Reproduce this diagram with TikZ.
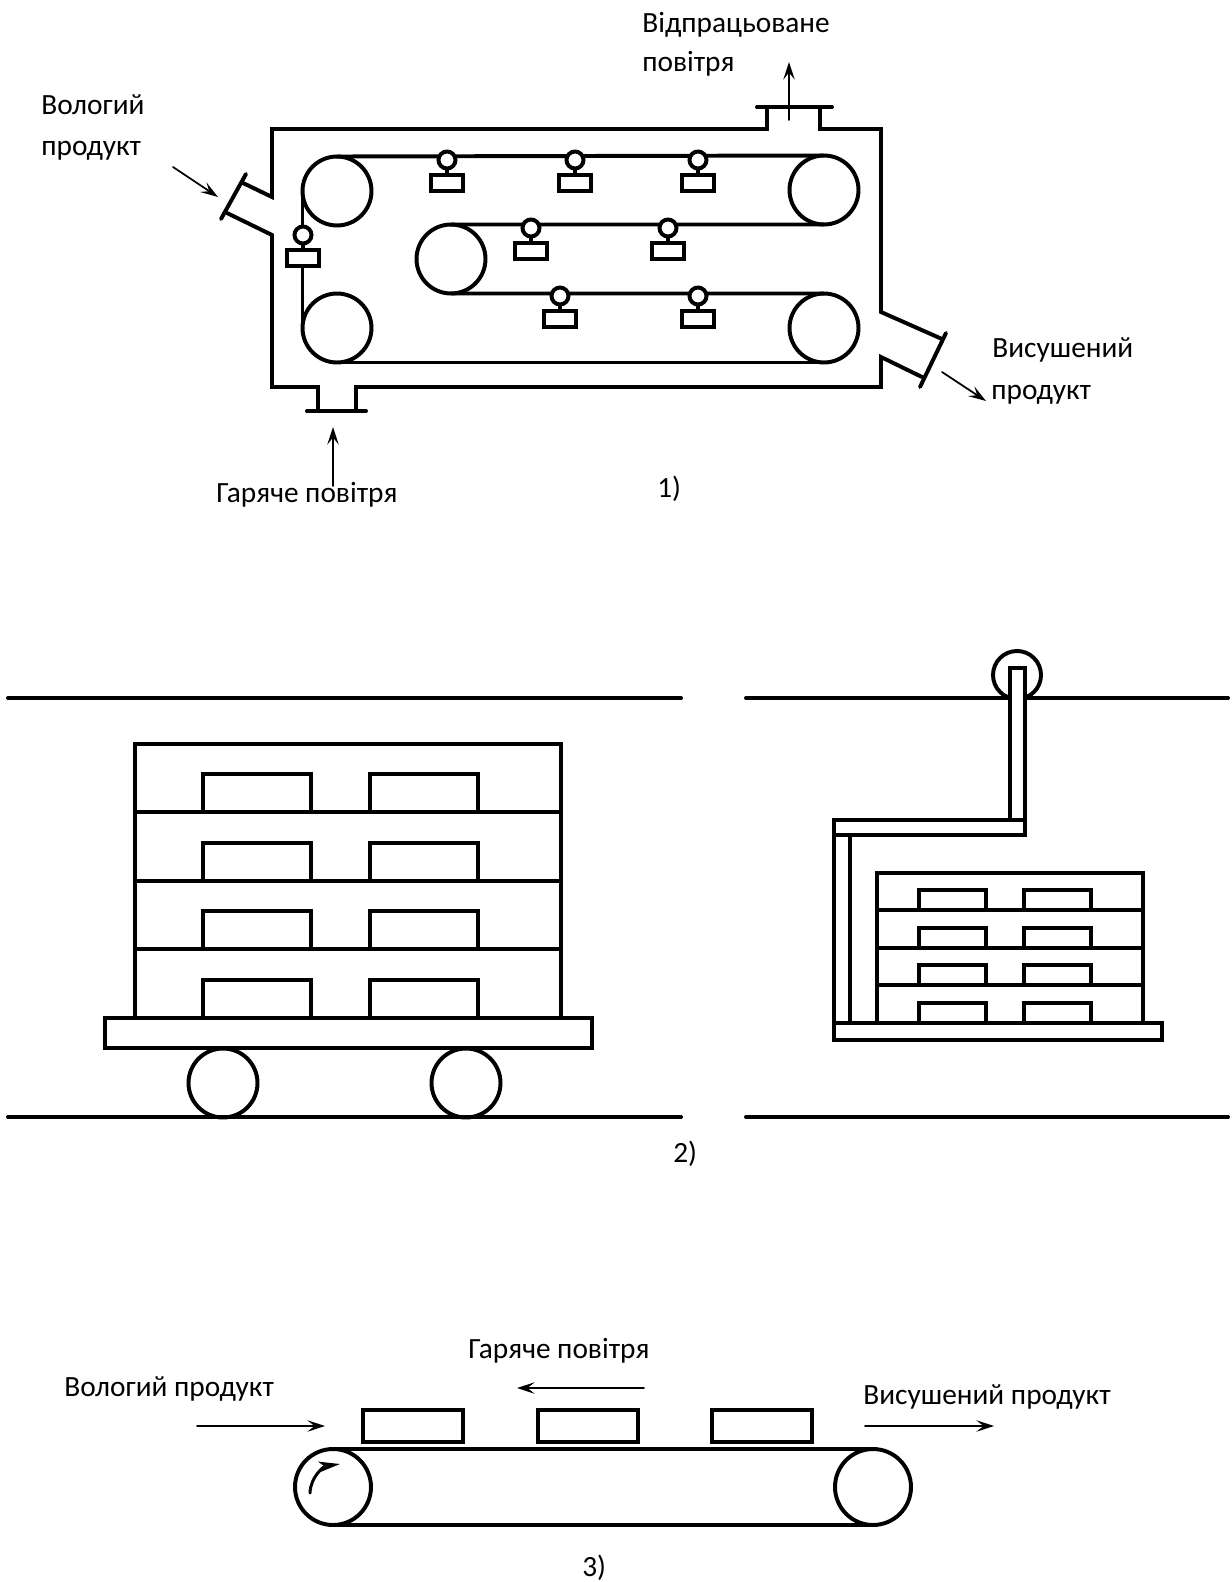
\documentclass[tikz,border=0pt]{standalone}
\usepackage{fontspec}
\setmainfont{Carlito}
\usetikzlibrary{arrows.meta}

\begin{document}
\begin{tikzpicture}[
    x=0.02cm,y=-0.02cm,
    line cap=round,
    line join=miter,
    wall/.style={draw=black, line width=2.25pt},
    thinwall/.style={draw=black, line width=2pt},
    flow/.style={draw=black, line width=1pt, -{Stealth[length=10pt,width=6.5pt,inset=4pt]}},
    label/.style={anchor=base west, inner sep=0pt, font=\fontsize{16.7pt}{18pt}\selectfont}
]
\useasboundingbox (0,0) rectangle (1231,1582);

% dryer housing
\coordinate (N1) at (246,174);
\coordinate (N2) at (221,219);
\coordinate (N3) at (946,333);
\coordinate (N4) at (920,387);

\draw[wall] (243,183)--(272,197)--(272,129)--(767,129)--(767,107);
\draw[wall] (820,107)--(820,129)--(881,129)--(881,312)--(942,339);
\draw[wall] (922,377)--(881,357)--(881,387)--(356,387)--(356,411);
\draw[wall] (318,411)--(318,387)--(272,387)--(272,235)--(227,213);
\draw[wall] (N1)--(N2);
\draw[wall] (N3)--(N4);
\draw[wall] (757,107)--(832,107);
\draw[wall] (307,411)--(366,411);

% rollers and belt
\foreach \P/\Q in {RA/{337,191},RB/{337,328},RC/{451,259},RD/{824,190},RE/{824,328}} {
    \node[wall,circle,inner sep=0pt,outer sep=0pt,minimum size=1.38cm] (\P) at (\Q) {};
}
\draw[wall] (RA.north)--(RD.north);
\draw[wall] (RC.north)--(RD.south);
\draw[wall] (RC.south)--(RE.north);
\draw[wall] (RB.south)--(RE.south);
\draw[wall] (RA.west)--(RB.west);

% nozzles on the belt
\foreach \X/\Y in {447/157,575/157,698/157,531/225,668/225,560/293,698/293,303/232} {
    \draw[wall] (\X,\Y+3)--(\X,\Y+17);
    \draw[wall,fill=white] (\X,\Y+3) circle (8.5);
    \draw[wall,fill=white] (\X-16,\Y+18) rectangle (\X+16,\Y+34);
}

% arrows of the dryer
\coordinate (A1) at (173,167);
\coordinate (A2) at (218,197);
\coordinate (A3) at (789,120);
\coordinate (A4) at (789,62);
\coordinate (A5) at (942,372);
\coordinate (A6) at (986,401);
\coordinate (A7) at (333,486);
\coordinate (A8) at (333,427);
\draw[flow] (A1)--(A2);
\draw[flow] (A3)--(A4);
\draw[flow] (A5)--(A6);
\draw[flow] (A7)--(A8);

\node[label] (outa) at (642,32) {Відпрацьоване};
\node[label] (outb) at (642,71) {повітря};
\node[label] (wetA) at (41,114) {Вологий};
\node[label] (wetB) at (41,155) {продукт};
\node[label] (dryA) at (992,357) {Висушений};
\node[label] (dryB) at (991,399) {продукт};
\node[label] (hot) at (216,502) {Гаряче повітря};
\node[label] (capA) at (657,497) {1)};

% tunnel, large view
\draw[wall] (8,698)--(681,698);
\draw[wall] (8,1117)--(681,1117);
\draw[wall] (135,1018)--(135,744)--(561,744)--(561,1018);
\foreach \Y in {812,881,949} {
    \draw[wall] (135,\Y)--(561,\Y);
}
\foreach \Y in {812,881,949,1018} {
    \draw[wall] (203,\Y)--(203,\Y-38)--(311,\Y-38)--(311,\Y);
    \draw[wall] (370,\Y)--(370,\Y-38)--(478,\Y-38)--(478,\Y);
}
\draw[wall] (105,1018) rectangle (592,1048);
\draw[wall] (223,1083) circle (34.5);
\draw[wall] (466,1083) circle (34.5);

% tunnel, hanging view
\draw[wall] (746,698)--(1228,698);
\draw[wall] (746,1117)--(1228,1117);
\draw[wall] (1017,675) circle (24);
\draw[thinwall,fill=white] (1010,668) rectangle (1025,820);
\draw[thinwall,fill=white] (834,820) rectangle (1025,835);
\draw[thinwall,fill=white] (834,835) rectangle (850,1023);
\draw[thinwall] (877,1023)--(877,873)--(1143,873)--(1143,1023);
\foreach \Y in {910,948,985} {
    \draw[thinwall] (877,\Y)--(1143,\Y);
}
\foreach \Y in {910,948,985,1023} {
    \draw[thinwall] (919,\Y)--(919,\Y-20)--(986,\Y-20)--(986,\Y);
    \draw[thinwall] (1024,\Y)--(1024,\Y-20)--(1091,\Y-20)--(1091,\Y);
}
\draw[thinwall] (834,1023) rectangle (1162,1040);
\node[label] (capB) at (673,1162) {2)};

% conveyor
\foreach \P/\Q in {RF/{333,1487},RG/{873,1487}} {
    \node[wall,circle,inner sep=0pt,outer sep=0pt,minimum size=1.52cm] (\P) at (\Q) {};
}
\draw[wall] (RF.north)--(RG.north);
\draw[wall] (RF.south)--(RG.south);
\foreach \X in {363,538,712} {
    \draw[wall] (\X,1410) rectangle (\X+100,1442);
}
\coordinate (B1) at (310,1493);
\coordinate (B2) at (340,1464);
\draw[draw=black, line width=1.7pt, -{Stealth[length=12pt,width=6pt,inset=3pt]}] (B1) to[out=88,in=188] (B2);

\coordinate (C1) at (197,1426);
\coordinate (C2) at (325,1426);
\coordinate (C3) at (644,1388);
\coordinate (C4) at (517,1388);
\coordinate (C5) at (865,1426);
\coordinate (C6) at (994,1426);
\draw[flow] (C1)--(C2);
\draw[flow] (C3)--(C4);
\draw[flow] (C5)--(C6);

\node[label] (wetC) at (64,1396) {Вологий продукт};
\node[label] (hotB) at (468,1358) {Гаряче повітря};
\node[label] (dryC) at (863,1404) {Висушений продукт};
\node[label] (capC) at (582,1576) {3)};

\end{tikzpicture}
\end{document}
